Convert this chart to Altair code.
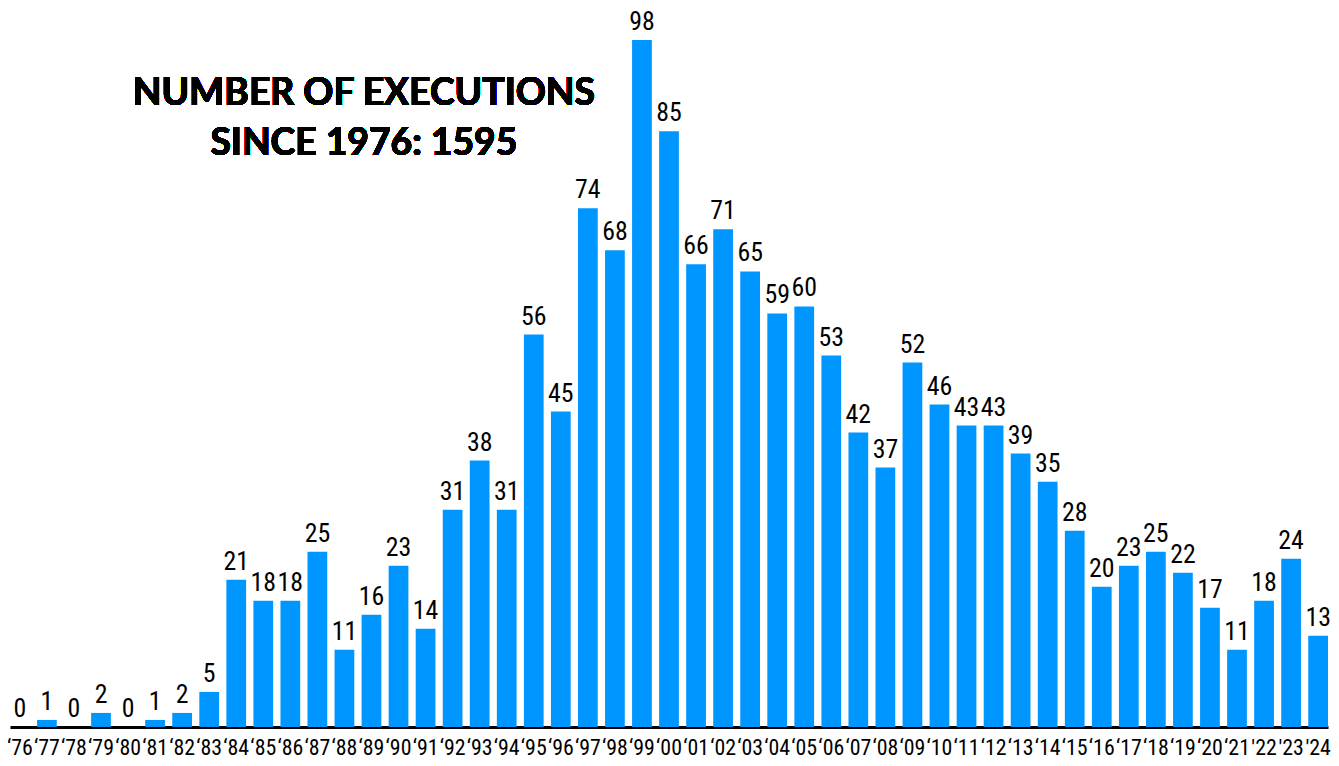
import altair as alt
import pandas as pd

years = [f"\u2018{y:02d}" for y in list(range(76, 100)) + list(range(0, 22))] + ["'22", "'23", "'24"]
executions = [0, 1, 0, 2, 0, 1, 2, 5, 21, 18, 18, 25, 11, 16, 23, 14, 31, 38, 31, 56,
              45, 74, 68, 98, 85, 66, 71, 65, 59, 60, 53, 42, 37, 52, 46, 43, 43, 39,
              35, 28, 20, 23, 25, 22, 17, 11, 18, 24, 13]
title_lines = ["NUMBER OF EXECUTIONS", "SINCE 1976: 1595"]

df = pd.DataFrame({"year": years, "n": executions})

NARROW = "'Roboto Condensed', 'DejaVu Sans Condensed', 'Liberation Sans'"
W, H = 1326, 713
x = alt.X("year:N", sort=years, title=None,
          scale=alt.Scale(paddingInner=0.27, paddingOuter=0),
          axis=alt.Axis(labelAngle=0, labelFont=NARROW, labelFontSize=22, labelFontWeight=400,
                        labelColor="black", ticks=False, tickSize=0, labelPadding=11,
                        labelOverlap=False, labelBound=False,
                        domainColor="black", domainWidth=3, grid=False))
y = alt.Y("n:Q", title=None, scale=alt.Scale(domain=[0, 101.12], nice=False),
          axis=None)

bars = alt.Chart(df).mark_bar(color="#0096FF").encode(x=x, y=y)
labels = alt.Chart(df).mark_text(font=NARROW, fontSize=26, fontWeight=400, color="black",
                                 baseline="alphabetic", dy=-10).encode(x=x, y=y, text="n:Q")
title = alt.Chart(df).mark_text(text=title_lines, font="Lato", fontWeight="bold", fontSize=37.5,
                                color="black", align="center", baseline="alphabetic",
                                lineHeight=51).encode(x=alt.value(356), y=alt.value(87))

chart = alt.layer(bars, labels, title).properties(
    width=W, height=H,
    autosize=alt.AutoSizeParams(type="none"),
    padding={"left": 2, "top": 8, "right": 3, "bottom": 36},
).configure_view(stroke=None)

chart.save("out.html", embed_options={"renderer": "svg", "actions": False})
